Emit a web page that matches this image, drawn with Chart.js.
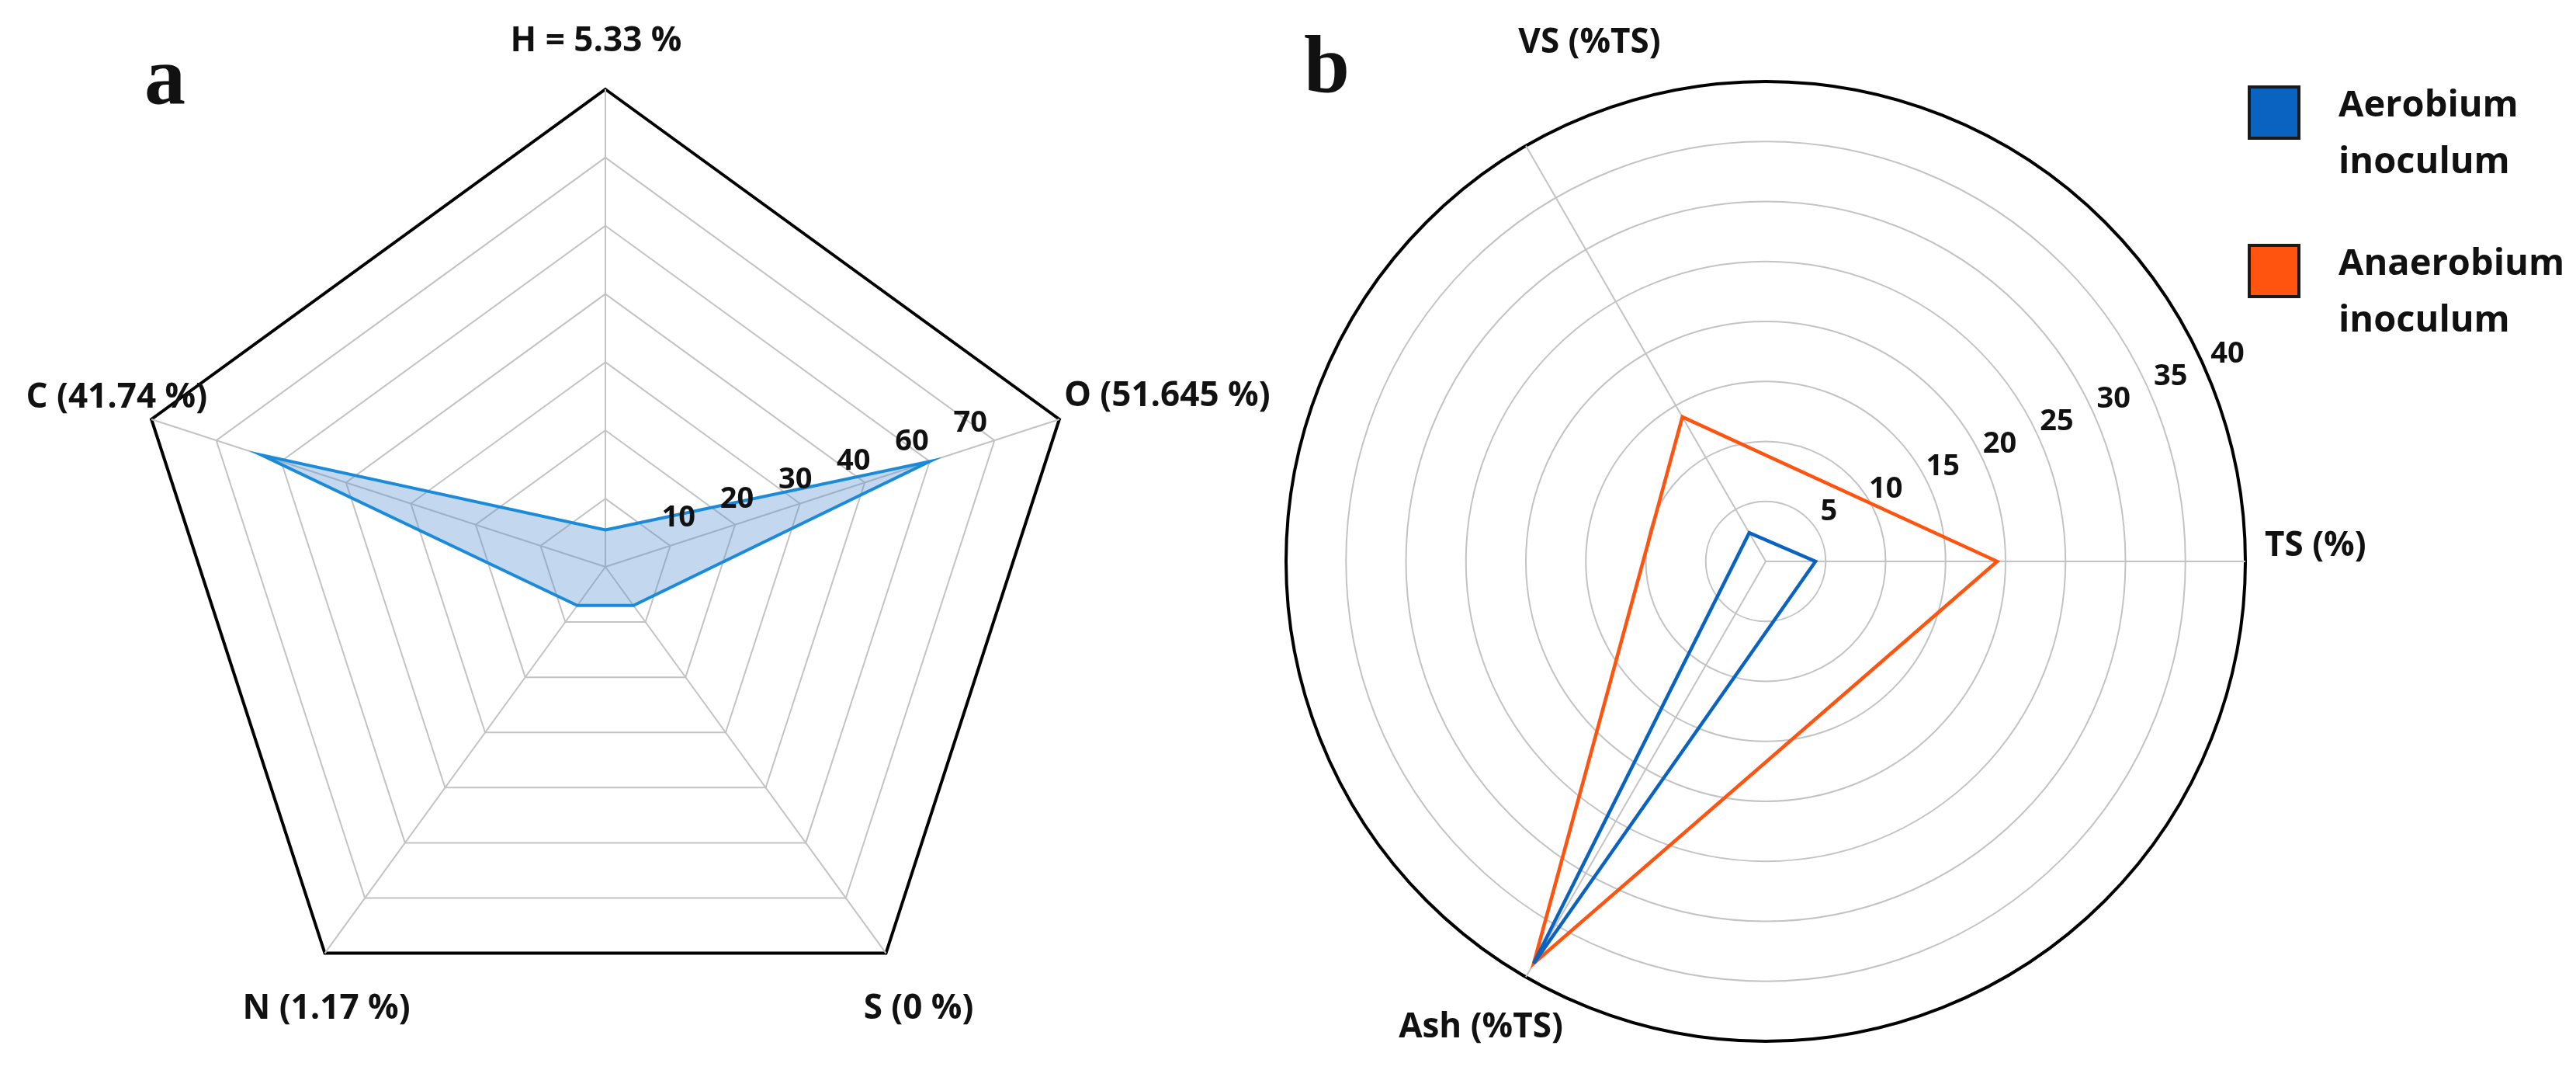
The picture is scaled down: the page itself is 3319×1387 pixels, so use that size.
<!DOCTYPE html>
<html>
<head>
<meta charset="utf-8">
<script src="https://cdn.jsdelivr.net/npm/chart.js@4.4.1/dist/chart.umd.min.js"></script>
<style>
  html, body { margin: 0; padding: 0; background: #fff; }
  #page { position: relative; width: 3319px; height: 1387px; overflow: hidden; background: #fff; }
  canvas { position: absolute; top: 0; }
  #chartA { left: 0; }
  #chartB { left: 1600px; }
</style>
</head>
<body>
<div id="page">
  <canvas id="chartA" width="1700" height="1387"></canvas>
  <canvas id="chartB" width="1719" height="1387"></canvas>
</div>
<script>
// panel a - elemental composition
const elementLabels = ['H = 5.33 %', 'O (51.645 %)', 'S (0 %)', 'N (1.17 %)', 'C (41.74 %)'];
const elementValues = [5.4, 50, 7, 7, 53];
const elementTickValues = [10, 20, 30, 40, 50, 60];
const elementTickLabels = ['10', '20', '30', '40', '60', '70'];
const elementMax = 70;

// panel b - solids
const solidsLabels = ['TS (%)', 'Ash (%TS)', 'VS (%TS)'];
const aerobiumValues = [4.15, 38.7, 2.75];
const anaerobiumValues = [19.3, 38.7, 13.9];
const solidsTicks = [5, 10, 15, 20, 25, 30, 35, 40];
const solidsMax = 40;
const seriesNames = ['Aerobium inoculum', 'Anaerobium inoculum'];

const FONT = '"Open Sans", "Noto Sans", sans-serif';
const GRID = '#c3c3c3';
const TEXT = '#111';

// draws panel letter, axis names and tick labels on top of the chart
const overlay = {
  id: 'overlay',
  afterDatasetsDraw(chart, args, o){
    const ctx = chart.ctx, r = chart.scales.r;
    ctx.save();
    ctx.fillStyle = TEXT;
    ctx.font = 'bold 106px "Liberation Serif", "Times New Roman", serif';
    ctx.textAlign = 'left'; ctx.textBaseline = 'alphabetic';
    ctx.fillText(o.letter, o.letterX, o.letterY);

    ctx.font = 'bold 44px ' + FONT;
    ctx.textBaseline = 'middle';
    chart.data.labels.forEach((lab, i)=>{
      const p = r.getPointPositionForValue(i, r.max);
      const off = o.labelOffsets[i];
      ctx.textAlign = off.align;
      ctx.fillText(lab, p.x + off.dx, p.y + off.dy);
    });

    ctx.font = 'bold 38px ' + FONT;
    ctx.textAlign = 'center';
    o.ticks.forEach((v, i)=>{
      const p = o.tickPos(r, v);
      ctx.fillText(o.tickText[i], p.x, p.y);
    });

    if (o.legend){
      chart.data.datasets.forEach((ds, i)=>{
        const lx = o.legend.x, ly = o.legend.y + i * o.legend.gap;
        ctx.fillStyle = ds.borderColor;
        ctx.fillRect(lx, ly, 64, 66);
        ctx.lineWidth = 4; ctx.strokeStyle = '#1a1a1a';
        ctx.strokeRect(lx, ly, 64, 66);
        ctx.fillStyle = TEXT;
        ctx.font = 'bold 47px ' + FONT;
        ctx.textAlign = 'left'; ctx.textBaseline = 'alphabetic';
        ds.label.split(' ').forEach((w, k)=> ctx.fillText(w, lx + 115, ly + 38 + k * 73));
      });
    }
    ctx.restore();
  }
};

function gridColor(max){ return ctx => (ctx.tick && ctx.tick.value === max) ? '#000' : GRID; }
function gridWidth(max, w){ return ctx => (ctx.tick && ctx.tick.value === max) ? w : 2; }

new Chart(document.getElementById('chartA'), {
  type: 'radar',
  data: {
    labels: elementLabels,
    datasets: [{
      label: 'Composition',
      data: elementValues,
      borderColor: '#1b8bd9',
      backgroundColor: 'rgba(88,148,212,0.36)',
      borderWidth: 4,
      fill: true,
      pointRadius: 0,
      tension: 0
    }]
  },
  options: {
    responsive: false, animation: false, devicePixelRatio: 1,
    layout: { padding: { left: 165, right: 305, top: 115, bottom: 42 } },
    plugins: {
      legend: { display: false }, tooltip: { enabled: false },
      overlay: {
        letter: 'a', letterX: 186, letterY: 133,
        labelOffsets: [
          { dx: -12, dy: -62, align: 'center' },
          { dx: 6, dy: -29, align: 'left' },
          { dx: 42, dy: 72, align: 'center' },
          { dx: 2, dy: 72, align: 'center' },
          { dx: 72, dy: -27, align: 'right' }
        ],
        ticks: elementTickValues,
        tickText: elementTickLabels,
        tickPos: (r, v)=>{
          const d = r.getDistanceFromCenterForValue(v) * 0.9 + 20;
          const a = r.getIndexAngle(1) - Math.PI / 2;
          return { x: r.xCenter + Math.cos(a) * d, y: r.yCenter + Math.sin(a) * d - 32 };
        }
      }
    },
    scales: {
      r: {
        min: 0, max: elementMax,
        ticks: { display: false, stepSize: 10 },
        pointLabels: { display: false },
        grid: { color: gridColor(elementMax), lineWidth: gridWidth(elementMax, 4) },
        angleLines: { color: GRID, lineWidth: 2 }
      }
    }
  },
  plugins: [overlay]
});

new Chart(document.getElementById('chartB'), {
  type: 'radar',
  data: {
    labels: solidsLabels,
    datasets: [
      { label: seriesNames[0], data: aerobiumValues, borderColor: '#0b63c1', borderWidth: 4.5, fill: false, pointRadius: 0, tension: 0 },
      { label: seriesNames[1], data: anaerobiumValues, borderColor: '#ff5410', borderWidth: 4.5, fill: false, pointRadius: 0, tension: 0 }
    ]
  },
  options: {
    responsive: false, animation: false, devicePixelRatio: 1,
    layout: { padding: { left: 57, right: 426, top: 105, bottom: 46 } },
    plugins: {
      legend: { display: false }, tooltip: { enabled: false },
      overlay: {
        letter: 'b', letterX: 80, letterY: 119,
        labelOffsets: [
          { dx: 25, dy: -20, align: 'left' },
          { dx: -58, dy: 65, align: 'center' },
          { dx: 82, dy: -132, align: 'center' }
        ],
        ticks: solidsTicks,
        tickText: solidsTicks.map(String),
        tickPos: (r, v)=>{
          const d = r.getDistanceFromCenterForValue(v);
          return { x: r.xCenter + d * 0.95 + 8, y: r.yCenter - d * 0.375 - 35 };
        },
        legend: { x: 1298, y: 112, gap: 204 }
      }
    },
    scales: {
      r: {
        min: 0, max: solidsMax, startAngle: 90,
        ticks: { display: false, stepSize: 5 },
        pointLabels: { display: false },
        grid: { circular: true, color: gridColor(solidsMax), lineWidth: gridWidth(solidsMax, 4) },
        angleLines: { color: GRID, lineWidth: 2 }
      }
    }
  },
  plugins: [overlay]
});
</script>
</body>
</html>
